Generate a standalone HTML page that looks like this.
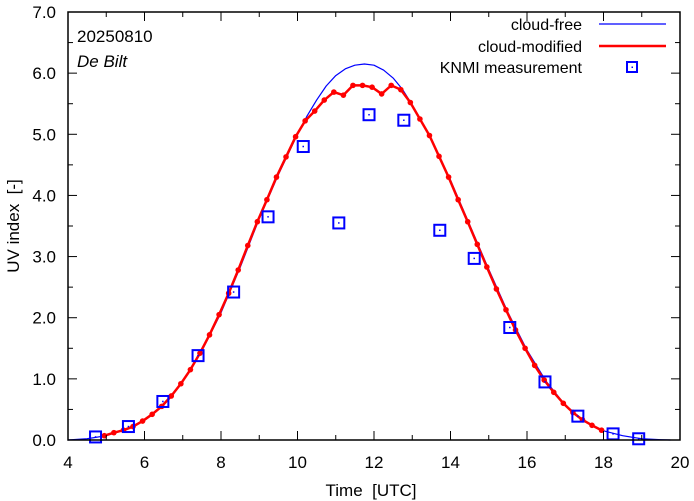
<!DOCTYPE html>
<html><head><meta charset="utf-8"><style>
body{margin:0;background:#fff}
svg{display:block;font-family:"Liberation Sans",sans-serif}
</style></head><body>
<svg id="chart" width="694" height="501" viewBox="0 0 694 501">
<g id="grid"></g>
<g id="series"></g>
<rect x="68" y="12" width="612" height="428" fill="none" stroke="#000" stroke-width="1.5"/>
<g id="ticks"></g>
<text x="77" y="42" font-size="17">20250810</text>
<text x="77" y="67" font-size="17" font-style="italic">De Bilt</text>
<text transform="translate(19,226) rotate(-90)" text-anchor="middle" font-size="17" xml:space="preserve">UV index  [-]</text>
<text x="371" y="496" text-anchor="middle" font-size="17" xml:space="preserve">Time  [UTC]</text>
<g>
<g><text x="582" y="30" text-anchor="end" font-size="16">cloud-free</text><line x1="599" y1="24" x2="666" y2="24" stroke="#0000ff" stroke-width="1.2"/></g>
<g><text x="582" y="52" text-anchor="end" font-size="16">cloud-modified</text><line x1="599" y1="46" x2="666" y2="46" stroke="#ff0000" stroke-width="2.5"/></g>
<g><text x="582" y="73" text-anchor="end" font-size="16">KNMI measurement</text><rect x="627" y="62" width="10" height="10" fill="none" stroke="#0000ff" stroke-width="2"/><rect x="631.5" y="66.5" width="1.5" height="1.5" fill="#0000ff"/></g>
</g>
</svg>
<script>
const xTicks=[4,6,8,10,12,14,16,18,20];
const yTicks=[0,1,2,3,4,5,6,7];
const clearT=[4,4.5,5,5.5,6,6.5,7,7.5,8,8.5,9,9.5,10,10.25,10.5,10.75,11,11.25,11.5,11.75,12,12.25,12.5,12.75,13,13.5,14,14.5,15,15.5,16,16.5,17,17.5,18,18.5,19,19.5,19.75];
const clearV=[0,0.02,0.07,0.17,0.33,0.58,0.96,1.46,2.08,2.82,3.62,4.34,5.0,5.3,5.56,5.79,5.96,6.07,6.13,6.15,6.13,6.05,5.92,5.73,5.48,4.92,4.25,3.52,2.79,2.09,1.47,0.96,0.57,0.31,0.15,0.07,0.02,0.005,0];
const modT=[4.95,5.2,5.45,5.7,5.95,6.2,6.45,6.7,6.95,7.2,7.45,7.7,7.95,8.2,8.45,8.7,8.95,9.2,9.45,9.7,9.95,10.2,10.45,10.7,10.95,11.2,11.45,11.7,11.95,12.2,12.45,12.7,12.95,13.2,13.45,13.7,13.95,14.2,14.45,14.7,14.95,15.2,15.45,15.7,15.95,16.2,16.45,16.7,16.95,17.2,17.45,17.7,17.95];
const modV=[0.07,0.12,0.16,0.22,0.31,0.42,0.55,0.72,0.92,1.15,1.42,1.72,2.05,2.4,2.78,3.18,3.57,3.93,4.3,4.63,4.96,5.22,5.38,5.56,5.69,5.64,5.8,5.8,5.77,5.66,5.8,5.73,5.52,5.25,4.98,4.64,4.3,3.93,3.57,3.2,2.83,2.47,2.13,1.8,1.5,1.22,0.98,0.78,0.6,0.45,0.33,0.24,0.16];
const measT=[4.72,5.58,6.48,7.4,8.33,9.23,10.15,11.08,11.87,12.78,13.72,14.62,15.55,16.47,17.33,18.25,18.92];
const measV=[0.05,0.22,0.63,1.38,2.42,3.65,4.8,3.55,5.32,5.23,3.43,2.97,1.84,0.95,0.39,0.1,0.02];
const X=t=>68+(t-4)*612/16, Y=v=>440-v*428/7;
const NS='http://www.w3.org/2000/svg';
function mk(tag,attrs,parent){const e=document.createElementNS(NS,tag);for(const k in attrs)e.setAttribute(k,attrs[k]);parent.appendChild(e);return e;}
const tk=document.getElementById('ticks'), se=document.getElementById('series');
for(let t=4;t<=20;t+=1){const len=(t%2===0)?9:5;
 const a=mk('line',{x1:X(t),y1:440,x2:X(t),y2:440-len,stroke:'#000','stroke-width':1},tk);
 
 
 const b=mk('line',{x1:X(t),y1:12,x2:X(t),y2:12+len,stroke:'#000','stroke-width':1},tk);
 
 }
xTicks.forEach(t=>{const e=mk('text',{x:X(t),y:468,'text-anchor':'middle','font-size':17},tk);e.textContent=t;
 
 });
for(let v=0;v<=7;v+=0.5){const len=(v%1===0)?9:5;
 const a=mk('line',{x1:68,y1:Y(v),x2:68+len,y2:Y(v),stroke:'#000','stroke-width':1},tk);
 
 
 const b=mk('line',{x1:680,y1:Y(v),x2:680-len,y2:Y(v),stroke:'#000','stroke-width':1},tk);
 
 }
yTicks.forEach(v=>{const e=mk('text',{x:56,y:Y(v)+6,'text-anchor':'end','font-size':17},tk);e.textContent=v.toFixed(1);
 
 });
const cf=mk('polyline',{points:clearT.map((t,i)=>X(t)+','+Y(clearV[i])).join(' '),fill:'none',stroke:'#0000ff','stroke-width':1.2,'stroke-linejoin':'round'},se);


const cm=mk('polyline',{points:modT.map((t,i)=>X(t)+','+Y(modV[i])).join(' '),fill:'none',stroke:'#ff0000','stroke-width':2.5,'stroke-linejoin':'round'},se);


modT.forEach((t,i)=>{const c=mk('circle',{cx:X(t),cy:Y(modV[i]),r:2.8,fill:'#ff0000'},se);
 
 });
measT.forEach((t,i)=>{const g=mk('g',{},se);
 
 
 mk('rect',{x:X(t)-5.5,y:Y(measV[i])-5.5,width:11,height:11,fill:'none',stroke:'#0000ff','stroke-width':2},g);
 mk('rect',{x:X(t)-0.75,y:Y(measV[i])-0.75,width:1.5,height:1.5,fill:'#0000ff'},g);});
</script>
</body></html>
